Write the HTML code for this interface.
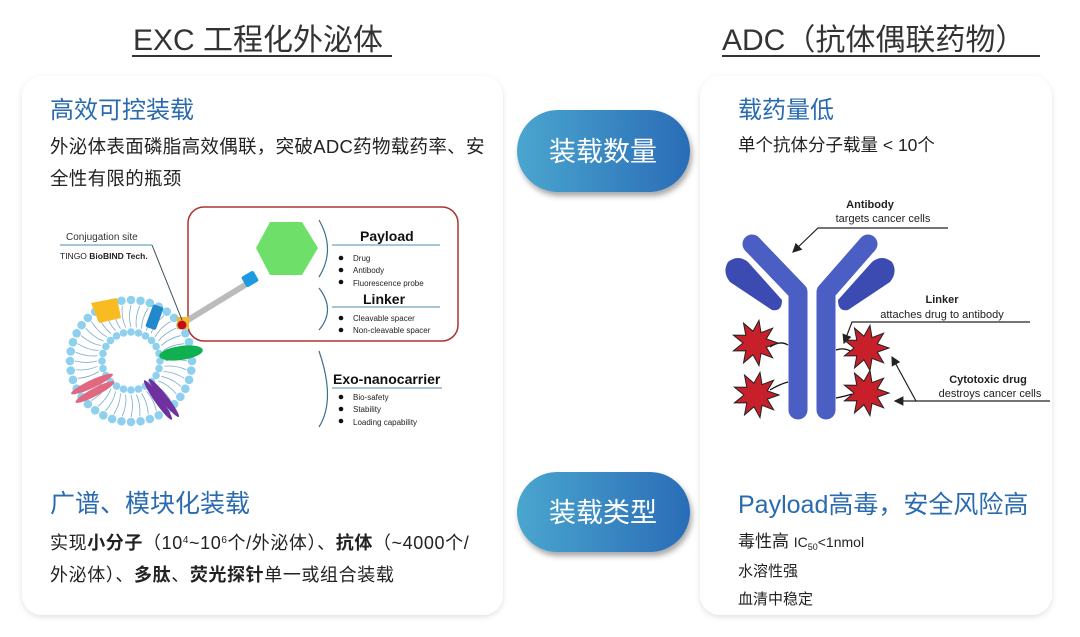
<!DOCTYPE html>
<html><head><meta charset="utf-8"><style>
html,body{margin:0;padding:0;background:#fff;}
svg{display:block;}
text{font-family:"Liberation Sans","Noto Sans CJK SC",sans-serif;}
</style></head><body>
<svg id="s" width="1080" height="637" viewBox="0 0 1080 637" xmlns="http://www.w3.org/2000/svg">
<defs>
<linearGradient id="bg" x1="0" x2="1" y1="0" y2="0"><stop offset="0" stop-color="#4aa6cf"/><stop offset="1" stop-color="#2a6cb7"/></linearGradient>
<filter id="sh" x="-10%" y="-10%" width="120%" height="120%"><feDropShadow dx="0" dy="2" stdDeviation="3" flood-color="#000" flood-opacity="0.12"/></filter>
<filter id="sh2" x="-20%" y="-20%" width="140%" height="150%"><feDropShadow dx="2" dy="4" stdDeviation="3" flood-color="#000" flood-opacity="0.35"/></filter>
<marker id="ar" markerWidth="8" markerHeight="8" refX="7" refY="4" orient="auto"><path d="M0,0 L8,4 L0,8 z" fill="#222"/></marker>
</defs>
<rect width="1080" height="637" fill="#fff"/>
<text x="133" y="50" font-size="30" fill="#333">EXC 工程化外泌体</text>
<line x1="132" y1="56" x2="392" y2="56" stroke="#333" stroke-width="2"/>
<text x="722" y="50" font-size="30" fill="#333">ADC（抗体偶联药物）</text>
<line x1="722" y1="56" x2="1040" y2="56" stroke="#333" stroke-width="2"/>
<rect x="22" y="76" width="481" height="539" rx="20" fill="#fff" filter="url(#sh)"/>
<rect x="700" y="76" width="352" height="539" rx="20" fill="#fff" filter="url(#sh)"/>
<rect x="517" y="110" width="173" height="82" rx="41" fill="url(#bg)" filter="url(#sh2)"/>
<text x="603" y="161" font-size="27" fill="#fff" text-anchor="middle">装载数量</text>
<rect x="517" y="472" width="173" height="80" rx="40" fill="url(#bg)" filter="url(#sh2)"/>
<text x="603" y="522" font-size="27" fill="#fff" text-anchor="middle">装载类型</text>
<text x="50" y="118" font-size="24" fill="#2a6bb0">高效可控装载</text>
<text x="50" y="153" font-size="18.5" fill="#222" letter-spacing="0.3">外泌体表面磷脂高效偶联，突破ADC药物载药率、安</text>
<text x="50" y="185" font-size="18.5" fill="#222" letter-spacing="0.3">全性有限的瓶颈</text>
<text x="50" y="512" font-size="25" fill="#2a6bb0">广谱、模块化装载</text>
<text x="50" y="549" font-size="18" fill="#222" letter-spacing="0.6">实现<tspan font-weight="bold">小分子</tspan>（10<tspan font-size="10" dy="-6">4</tspan><tspan dy="6">~10</tspan><tspan font-size="10" dy="-6">6</tspan><tspan dy="6">个/外泌体）、</tspan><tspan font-weight="bold">抗体</tspan>（~4000个/</text>
<text x="50" y="581" font-size="18" fill="#222" letter-spacing="0.6">外泌体）、<tspan font-weight="bold">多肽</tspan>、<tspan font-weight="bold">荧光探针</tspan>单一或组合装载</text>
<text x="738" y="118" font-size="24" fill="#2a6bb0">载药量低</text>
<text x="738" y="151" font-size="17.5" fill="#222">单个抗体分子载量 &lt; 10个</text>
<text x="738" y="513" font-size="25" fill="#2a6bb0">Payload高毒，安全风险高</text>
<text x="738" y="547" font-size="17" fill="#222">毒性高 <tspan font-size="14">IC</tspan><tspan font-size="9" dy="3">50</tspan><tspan font-size="14" dy="-3">&lt;1nmol</tspan></text>
<text x="738" y="576" font-size="15" fill="#222">水溶性强</text>
<text x="738" y="604" font-size="15" fill="#222">血清中稳定</text>

<g id="ves"></g>
<rect x="188" y="207" width="270" height="134" rx="16" fill="none" stroke="#b03030" stroke-width="1.5"/>
<line x1="183" y1="323" x2="250" y2="282" stroke="#bbb" stroke-width="6"/>
<rect x="243" y="273" width="14" height="12" rx="2" fill="#1e9ae0" transform="rotate(-30 250 279)"/>
<polygon points="270,222 302,222 318,248 302,275 270,275 256,248" fill="#6ee06a"/>
<rect x="177" y="317" width="12" height="12" fill="#f5b82a"/>
<circle cx="182" cy="325" r="4.5" fill="#c0101a"/>
<text x="66" y="240" font-size="10" fill="#333">Conjugation site</text>
<line x1="60" y1="245" x2="152" y2="245" stroke="#4a8cb0" stroke-width="1"/>
<line x1="152" y1="245" x2="182" y2="320" stroke="#3a5060" stroke-width="1"/>
<text x="60" y="259" font-size="8.5" fill="#222">TINGO <tspan font-weight="bold">BioBIND Tech.</tspan></text>
<g fill="none" stroke="#3a7090" stroke-width="1.2">
<path d="M319,220 Q336,250 319,277"/>
<path d="M319,288 Q336,310 319,330"/>
<path d="M319,351 Q336,400 319,427"/>
</g>
<g stroke="#4a8cb0" stroke-width="1"><line x1="332" y1="245" x2="440" y2="245"/><line x1="332" y1="307" x2="440" y2="307"/><line x1="332" y1="388" x2="442" y2="388"/></g>
<g font-weight="bold" fill="#111"><text x="360" y="241" font-size="14">Payload</text><text x="363" y="304" font-size="14">Linker</text><text x="333" y="384" font-size="14">Exo-nanocarrier</text></g>
<g font-size="8" fill="#222">
<text x="353" y="261">Drug</text><text x="353" y="273">Antibody</text><text x="353" y="286">Fluorescence probe</text>
<text x="353" y="321">Cleavable spacer</text><text x="353" y="333">Non-cleavable spacer</text>
<text x="353" y="400">Bio-safety</text><text x="353" y="412">Stability</text><text x="353" y="425">Loading capability</text>
</g>
<g fill="#111"><circle cx="341" cy="258" r="2.3"/><circle cx="341" cy="270" r="2.3"/><circle cx="341" cy="282" r="2.3"/><circle cx="341" cy="318" r="2.3"/><circle cx="341" cy="330" r="2.3"/><circle cx="341" cy="397" r="2.3"/><circle cx="341" cy="409" r="2.3"/><circle cx="341" cy="421" r="2.3"/></g>

<g stroke="#4a5ec4" stroke-width="19" fill="none" stroke-linecap="round" stroke-linejoin="round">
<polyline points="752,244 798,292 798,410"/>
<polyline points="868,244 826,292 826,410"/>
</g>
<path d="M728,262 Q738,254 748,262 L782,300 Q782,312 772,310 L730,282 Q722,272 728,262z" fill="#3b4bb2"/>
<path d="M892,262 Q882,254 872,262 L838,300 Q838,312 848,310 L890,282 Q898,272 892,262z" fill="#3b4bb2"/>
<g fill="none" stroke="#111" stroke-width="1.3">
<path d="M770,347 Q780,340 788,345"/><path d="M770,390 Q780,384 788,382"/>
<path d="M836,350 Q845,347 852,352"/><path d="M836,398 Q846,396 852,394"/>
</g>
<g id="stars" fill="#c8202a" stroke="#222" stroke-width="1"></g>
<text x="870" y="208" font-size="11" font-weight="bold" fill="#222" text-anchor="middle">Antibody</text>
<text x="883" y="222" font-size="11" fill="#222" text-anchor="middle">targets cancer cells</text>
<polyline points="948,228 818,228 793,252" fill="none" stroke="#222" stroke-width="1.2" marker-end="url(#ar)"/>
<text x="942" y="303" font-size="11" font-weight="bold" fill="#222" text-anchor="middle">Linker</text>
<text x="942" y="318" font-size="11" fill="#222" text-anchor="middle">attaches drug to antibody</text>
<polyline points="1030,322 852,322 844,343" fill="none" stroke="#222" stroke-width="1.2" marker-end="url(#ar)"/>
<text x="988" y="383" font-size="11" font-weight="bold" fill="#222" text-anchor="middle">Cytotoxic drug</text>
<text x="990" y="397" font-size="11" fill="#222" text-anchor="middle">destroys cancer cells</text>
<polyline points="1050,401 916,401 892,357" fill="none" stroke="#222" stroke-width="1.2" marker-end="url(#ar)"/>
<line x1="916" y1="401" x2="895" y2="401" stroke="#222" stroke-width="1.2" marker-end="url(#ar)"/>
</svg>
<script>
var NS="http://www.w3.org/2000/svg";
function el(p,t,a){var e=document.createElementNS(NS,t);for(var k in a)e.setAttribute(k,a[k]);p.appendChild(e);return e;}
var v=document.getElementById("ves"),cx=131,cy=361;
for(var i=0;i<40;i++){var a=i/40*2*Math.PI,c=Math.cos(a),s=Math.sin(a);
el(v,"path",{d:"M"+(cx+56*c)+","+(cy+56*s)+" Q"+(cx+44*c+3*s)+","+(cy+44*s-3*c)+" "+(cx+34*c)+","+(cy+34*s),stroke:"#7aaecc","stroke-width":"0.8",fill:"none"});
el(v,"circle",{cx:cx+61*c,cy:cy+61*s,r:4.3,fill:"#8fd0ef"});}
for(var i=0;i<24;i++){var a=i/24*2*Math.PI;el(v,"circle",{cx:cx+29*Math.cos(a),cy:cy+29*Math.sin(a),r:3.8,fill:"#8fd0ef"});}
el(v,"polygon",{points:"91,303 117,298 121,318 99,323",fill:"#f8bb22"});
el(v,"rect",{x:149,y:305,width:11,height:24,rx:2,fill:"#2288cc",transform:"rotate(20 154 317)"});
el(v,"ellipse",{cx:181,cy:353,rx:22,ry:7,fill:"#10b050",transform:"rotate(-8 181 353)"});
el(v,"ellipse",{cx:92,cy:384,rx:23,ry:4,fill:"#e06880",transform:"rotate(-25 92 384)"});
el(v,"ellipse",{cx:95,cy:392,rx:22,ry:4,fill:"#e06880",transform:"rotate(-28 95 392)"});
el(v,"ellipse",{cx:158,cy:400,rx:24,ry:3.5,fill:"#7030a0",transform:"rotate(55 158 400)"});
el(v,"ellipse",{cx:164,cy:398,rx:24,ry:3.5,fill:"#7030a0",transform:"rotate(52 164 398)"});
var st=document.getElementById("stars");
[[755,343],[756,395],[866,348],[866,393]].forEach(function(p){var pts=[];for(var i=0;i<18;i++){var r=i%2?12:23,a=i/18*2*Math.PI;pts.push((p[0]+r*Math.cos(a))+","+(p[1]+r*Math.sin(a)));}el(st,"polygon",{points:pts.join(" ")});});
</script>
</body></html>
